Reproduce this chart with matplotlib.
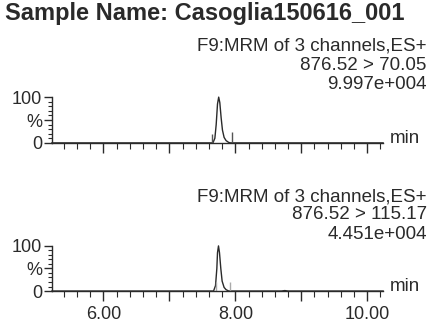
import numpy as np
import matplotlib.pyplot as plt
from matplotlib.ticker import MultipleLocator, FixedLocator

plt.rcParams['font.family'] = ['Liberation Sans', 'DejaVu Sans']

title = "Sample Name: Casoglia150616_001"
channel_info = [
    ["F9:MRM of 3 channels,ES+", "876.52 > 70.05", "9.997e+004"],
    ["F9:MRM of 3 channels,ES+", "876.52 > 115.17", "4.451e+004"],
]

# retention time (min) and relative intensity (%)
t_top = [5.22, 7.66, 7.69, 7.71, 7.73, 7.748, 7.765, 7.785, 7.805, 7.83, 7.86, 7.90, 7.93, 10.24]
y_top = [0, 0, 10, 40, 85, 100, 88, 55, 28, 12, 5, 1, 0, 0]
t_bot = [5.22, 7.67, 7.70, 7.72, 7.73, 7.745, 7.76, 7.78, 7.80, 7.83, 7.86, 7.90, 8.70, 8.75, 8.80, 10.24]
y_bot = [0, 0, 12, 50, 85, 100, 85, 50, 22, 8, 3, 0, 0, 1, 0, 0]

# integration markers (time, height %)
mark_top_t = [7.65, 7.95]
mark_top_h = [20, 24]
mark_bot_t = [7.70, 7.92]
mark_bot_h = [20, 20]

ink = '#2a2a2a'

fig = plt.figure(figsize=(4.29, 3.27), dpi=100)
fig.text(0.012, 0.958, title, fontsize=17, fontweight='bold', color=ink, va='center', ha='left')

panels = [
    (fig.add_axes([0.121, 0.563, 0.772, 0.14]), t_top, y_top, mark_top_t, mark_top_h, '#555555'),
    (fig.add_axes([0.121, 0.110, 0.772, 0.138]), t_bot, y_bot, mark_bot_t, mark_bot_h, '#aaaaaa'),
]

text_y = [[0.859, 0.801, 0.743], [0.398, 0.343, 0.284]]

for i, (ax, t, y, mt, mh, mcol) in enumerate(panels):
    ax.plot(t, y, color=ink, lw=1.0, clip_on=False)
    ax.vlines(mt, 0, mh, color=mcol, lw=1.0)
    ax.set_xlim(5.22, 10.24)
    ax.set_ylim(0, 100)
    for s in ['top', 'right']:
        ax.spines[s].set_visible(False)
    for s in ['left', 'bottom']:
        ax.spines[s].set_color(ink)
        ax.spines[s].set_linewidth(1.0)

    ax.yaxis.set_major_locator(FixedLocator([0, 50, 100]))
    ax.set_yticklabels(['0', '%', '100'])
    ax.yaxis.set_minor_locator(MultipleLocator(10))
    ax.tick_params(axis='y', which='major', length=6, width=1, pad=1,
                   labelsize=13, colors=ink)
    ax.tick_params(axis='y', which='minor', length=3, width=0.8, colors=ink)

    ax.xaxis.set_major_locator(MultipleLocator(1))
    ax.xaxis.set_minor_locator(MultipleLocator(0.2))
    ax.tick_params(axis='x', which='major', length=7, width=1, pad=4,
                   labelsize=13, colors=ink)
    ax.tick_params(axis='x', which='minor', length=4, width=0.8, colors=ink)
    if i == 1:
        ax.set_xticks([6, 7, 8, 9, 10])
        ax.set_xticklabels(['6.00', '', '8.00', '', '10.00'])
    else:
        ax.set_xticklabels([])

    ax.text(1.02, 0, 'min', transform=ax.transAxes, fontsize=13.5, color=ink,
            ha='left', va='baseline')

    for line, yy in zip(channel_info[i], text_y[i]):
        fig.text(0.995, yy, line, fontsize=13.5, color=ink, ha='right', va='center')

fig.savefig('out.png', dpi=100)
